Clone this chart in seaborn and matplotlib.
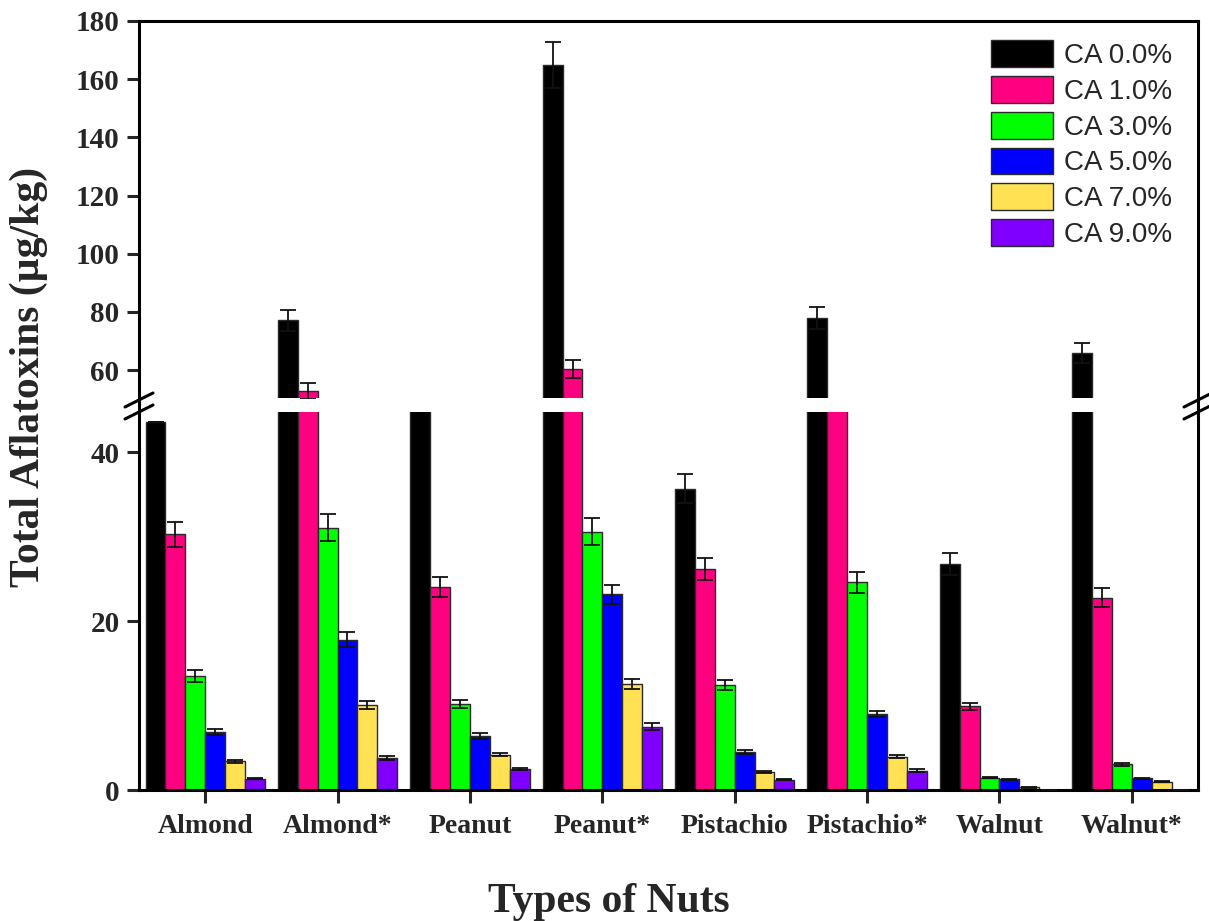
import numpy as np
import pandas as pd
import matplotlib
matplotlib.use("Agg")
import matplotlib.pyplot as plt
from matplotlib.lines import Line2D
from matplotlib.patches import Patch
import seaborn as sns

# ---------------- data ----------------
nuts = ["Almond", "Almond*", "Peanut", "Peanut*", "Pistachio", "Pistachio*", "Walnut", "Walnut*"]
levels = ["CA 0.0%", "CA 1.0%", "CA 3.0%", "CA 5.0%", "CA 7.0%", "CA 9.0%"]
colors = ["#000000", "#FF0080", "#00FF00", "#0000FF", "#FFE153", "#7F00FF"]

ca00 = [43.6, 77.1, 47.5, 164.8, 35.7, 77.9, 26.8, 65.8]
ca00_err = [0.0, 3.7, 1.9, 8.0, 1.7, 3.7, 1.3, 3.5]
ca10 = [30.3, 52.9, 24.1, 60.4, 26.2, 47.5, 9.9, 22.8]
ca10_err = [1.5, 2.7, 1.2, 3.0, 1.3, 2.2, 0.45, 1.1]
ca30 = [13.5, 31.1, 10.2, 30.6, 12.4, 24.6, 1.45, 3.05]
ca30_err = [0.7, 1.6, 0.5, 1.6, 0.6, 1.2, 0.07, 0.15]
ca50 = [6.85, 17.8, 6.4, 23.2, 4.5, 9.0, 1.25, 1.4]
ca50_err = [0.35, 0.9, 0.3, 1.1, 0.2, 0.4, 0.06, 0.07]
ca70 = [3.4, 10.1, 4.2, 12.6, 2.1, 3.95, 0.3, 1.0]
ca70_err = [0.15, 0.5, 0.2, 0.6, 0.1, 0.2, 0.02, 0.05]
ca90 = [1.35, 3.8, 2.45, 7.5, 1.2, 2.3, 0.0, 0.0]
ca90_err = [0.06, 0.2, 0.1, 0.4, 0.05, 0.15, 0.0, 0.0]

values = [ca00, ca10, ca30, ca50, ca70, ca90]
errors = [ca00_err, ca10_err, ca30_err, ca50_err, ca70_err, ca90_err]

upper_ticks = [60, 80, 100, 120, 140, 160, 180]
lower_ticks = [0, 20, 40]

rows = []
for lev, vals in zip(levels, values):
    for n, v in zip(nuts, vals):
        rows.append({"nut": n, "level": lev, "value": v})
df = pd.DataFrame(rows)

# ---------------- style ----------------
sns.set_style("ticks")
plt.rcParams["font.family"] = ["Liberation Serif", "DejaVu Serif"]

W, H = 1209, 921
fig = plt.figure(figsize=(W / 100, H / 100), dpi=100)

x0, x1 = 139, 1198
top_t, top_b = 21, 398
bot_t, bot_b = 412, 790
ax_top = fig.add_axes([x0 / W, 1 - top_b / H, (x1 - x0) / W, (top_b - top_t) / H])
ax_bot = fig.add_axes([x0 / W, 1 - bot_b / H, (x1 - x0) / W, (bot_b - bot_t) / H])

spine_lw = 2.2
for ax in (ax_top, ax_bot):
    sns.barplot(data=df, x="nut", y="value", hue="level", order=nuts, hue_order=levels,
                palette=colors, width=0.9, errorbar=None, edgecolor="#2a2a2a",
                linewidth=1.0, saturation=1, legend=False, ax=ax)
    for cont, vals, errs in zip(ax.containers, values, errors):
        xs = [b.get_x() + b.get_width() / 2 for b in cont]
        ax.errorbar(xs, vals, yerr=errs, fmt="none", ecolor="#111111",
                    elinewidth=1.3, capsize=5.5, capthick=1.3, zorder=5)
    ax.set_xlim(-0.5, len(nuts) - 0.5)
    ax.set_xlabel("")
    ax.set_ylabel("")
    for s in ax.spines.values():
        s.set_linewidth(spine_lw)
        s.set_color("black")
    ax.tick_params(axis="y", direction="out", length=9, width=spine_lw, pad=5,
                   labelsize=21)

ax_top.set_ylim(50.4, 180)
ax_top.set_yticks(upper_ticks)
ax_top.spines["bottom"].set_visible(False)
ax_top.tick_params(axis="x", bottom=False, labelbottom=False)

ax_bot.set_ylim(0, 44.8)
ax_bot.set_yticks(lower_ticks)
ax_bot.spines["top"].set_visible(False)
ax_bot.tick_params(axis="x", direction="out", length=9, width=spine_lw, pad=8,
                   labelsize=20)
for ax in (ax_top, ax_bot):
    for lab in ax.get_yticklabels() + ax.get_xticklabels():
        lab.set_fontweight("bold")
        lab.set_fontfamily(["Liberation Serif"])

# legend
handles = [Patch(facecolor=c, edgecolor="#2a2a2a", linewidth=1.0) for c in colors]
ax_top.legend(handles, levels, loc="upper right", bbox_to_anchor=(0.986, 0.978),
              borderaxespad=0, frameon=False,
              prop={"family": "Liberation Sans", "size": 20},
              handlelength=2.23, handleheight=1.1, labelspacing=0.25,
              handletextpad=0.4)

# axis break marks and spine through gap
def px(x, y):
    return (x / W, 1 - y / H)

for xs in (x0, x1):
    fig.add_artist(Line2D([px(xs, top_b)[0], px(xs, bot_t)[0]],
                          [px(xs, top_b)[1], px(xs, bot_t)[1]],
                          color="black", lw=spine_lw, transform=fig.transFigure))
    for yc in (400, 412):
        a = px(xs - 14, yc + 7)
        b = px(xs + 14, yc - 7)
        fig.add_artist(Line2D([a[0], b[0]], [a[1], b[1]], color="black", lw=2.2,
                              transform=fig.transFigure))

fig.text(29 / W, 1 - 377 / H, "Total Aflatoxins (µg/kg)", rotation=90,
         ha="center", va="center", fontsize=30, fontweight="bold",
         family=["Liberation Serif"])
fig.text(609 / W, 1 - 912 / H, "Types of Nuts", ha="center", va="baseline",
         fontsize=30, fontweight="bold", family=["Liberation Serif"])

fig.savefig("out.png", dpi=100)
